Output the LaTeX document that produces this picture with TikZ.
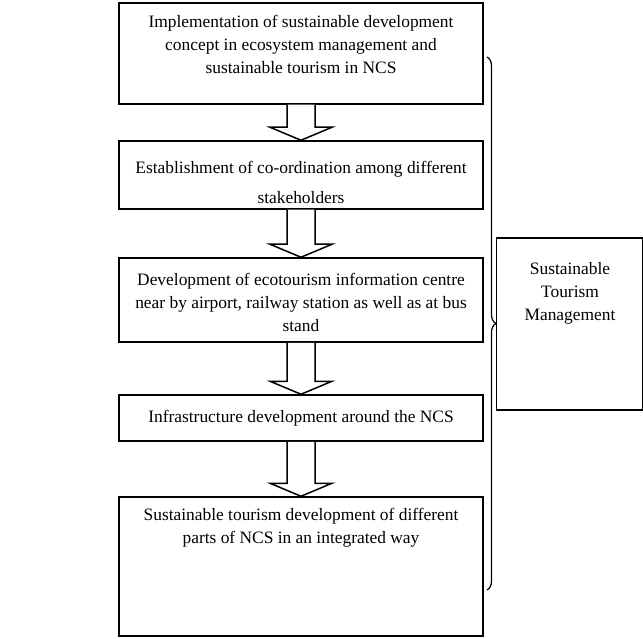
\documentclass[tikz,border=0pt]{standalone}
\usepackage{fontspec}
\setmainfont{Liberation Serif}
\usetikzlibrary{calc,decorations.pathreplacing}
\tikzset{
  box/.style={draw, line width=1.5pt, inner sep=0pt},
  txt/.style={inner sep=0pt, align=center, font=\fontsize{17.4pt}{23pt}\selectfont},
  blockarr/.style={draw, line width=1.5pt, line join=miter, fill=white},
}
\newcommand{\blockarrow}[2]{%
  \draw[blockarr] let \p1=(#1.south), \p2=(#2.north) in
    (\x1-14pt,\y1) -- (\x1-14pt,\y2+13pt) -- (\x1-31pt,\y2+13pt) -- (\x2,\y2)
    -- (\x1+31pt,\y2+13pt) -- (\x1+14pt,\y2+13pt) -- (\x1+14pt,\y1);}
\begin{document}
\begin{tikzpicture}[x=1pt,y=-1pt]
\useasboundingbox (0,0) rectangle (643,639);
% boxes
\node[box, minimum width=364pt, minimum height=101pt] (b1) at (301,53.5) {};
\node[box, minimum width=364pt, minimum height=68pt]  (b2) at (301,175) {};
\node[box, minimum width=364pt, minimum height=84pt]  (b3) at (301,300) {};
\node[box, minimum width=364pt, minimum height=46pt]  (b4) at (301,418) {};
\node[box, minimum width=364pt, minimum height=139pt] (b5) at (301,566.5) {};
\node[box, minimum width=146pt, minimum height=172pt] (stm) at (569.5,324) {};
% texts
\node[txt] (t1) at (301,44.5) {Implementation of sustainable development\\concept in ecosystem management and\\sustainable tourism in NCS};
\node[txt] (t2) at (301,182) {Establishment of co-ordination among different\\[7pt]stakeholders};
\node[txt] (t3) at (301,302) {Development of ecotourism information centre\\near by airport, railway station as well as at bus\\stand};
\node[txt] (t4) at (301,418) {Infrastructure development around the NCS};
\node[txt] (t5) at (301,528) {Sustainable tourism development of different\\parts of NCS in an integrated way};
\node[txt] (t6) at (570,293.5) {Sustainable\\Tourism\\Management};
% arrows
\blockarrow{b1}{b2}
\blockarrow{b2}{b3}
\blockarrow{b3}{b4}
\blockarrow{b4}{b5}
% brace
\coordinate (brtop) at (487,57);
\coordinate (brbot) at (487,590);
\draw[line width=1.2pt, decorate, decoration={brace, amplitude=9pt}] (brtop) -- (brbot);
\end{tikzpicture}
\end{document}
